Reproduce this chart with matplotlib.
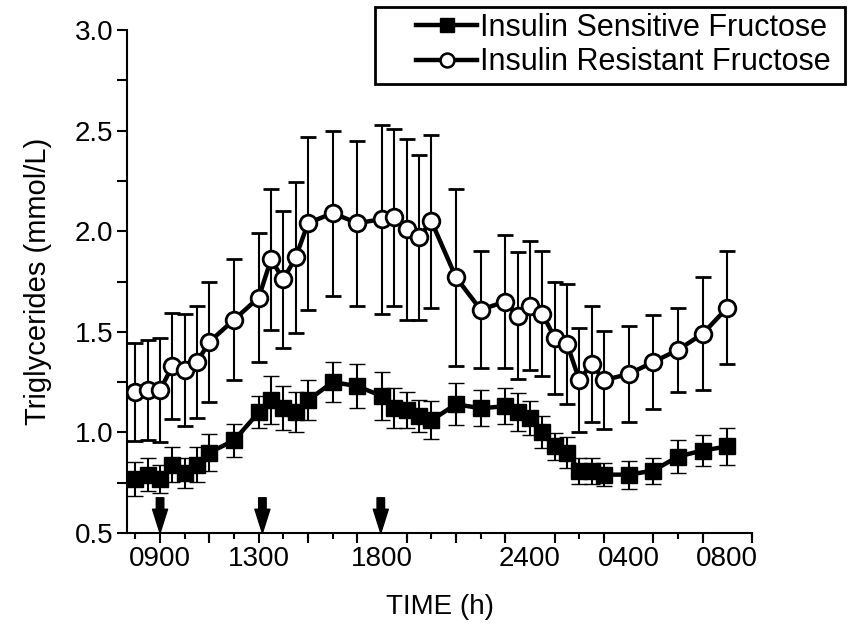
import matplotlib
matplotlib.use("Agg")
import matplotlib.pyplot as plt
from matplotlib.lines import Line2D
from matplotlib.patches import Rectangle
import numpy as np

plt.rcParams['font.family'] = ['Liberation Sans', 'DejaVu Sans']

# Time of sampling (hours from midnight of day 1; 24 = midnight, 32 = 0800 next day)
times = [8, 8.5, 9, 9.5, 10, 10.5, 11, 12, 13, 13.5, 14, 14.5, 15, 16, 17, 18,
         18.5, 19, 19.5, 20, 21, 22, 23, 23.5, 24, 24.5, 25, 25.5, 26, 26.5,
         27, 28, 29, 30, 31, 32]

sensitive_mean = [0.77, 0.79, 0.77, 0.84, 0.80, 0.84, 0.90, 0.96, 1.10, 1.16,
                  1.12, 1.10, 1.16, 1.25, 1.23, 1.18, 1.12, 1.11, 1.08, 1.06,
                  1.14, 1.12, 1.13, 1.10, 1.07, 1.00, 0.93, 0.90, 0.81, 0.81,
                  0.79, 0.79, 0.81, 0.88, 0.91, 0.93]
sensitive_err = [0.085, 0.083, 0.07, 0.085, 0.075, 0.087, 0.09, 0.08, 0.08, 0.12,
                 0.11, 0.10, 0.10, 0.10, 0.11, 0.12, 0.10, 0.09, 0.08, 0.095,
                 0.105, 0.09, 0.09, 0.095, 0.085, 0.08, 0.066, 0.077, 0.065, 0.065,
                 0.058, 0.07, 0.065, 0.083, 0.077, 0.09]

resistant_mean = [1.20, 1.21, 1.21, 1.33, 1.31, 1.35, 1.45, 1.56, 1.67, 1.86,
                  1.76, 1.87, 2.04, 2.09, 2.04, 2.06, 2.07, 2.01, 1.97, 2.05,
                  1.77, 1.61, 1.65, 1.58, 1.63, 1.59, 1.47, 1.44, 1.26, 1.34,
                  1.26, 1.29, 1.35, 1.41, 1.49, 1.62]
resistant_err = [0.245, 0.25, 0.26, 0.265, 0.28, 0.28, 0.30, 0.30, 0.32, 0.35,
                 0.34, 0.375, 0.43, 0.41, 0.41, 0.47, 0.44, 0.45, 0.41, 0.43,
                 0.44, 0.29, 0.33, 0.315, 0.32, 0.31, 0.28, 0.30, 0.26, 0.29,
                 0.245, 0.24, 0.235, 0.21, 0.28, 0.28]

meal_times = [9.0, 13.15, 17.95]

tick_hours = [9, 13, 18, 24, 28, 32]
tick_labels = ['0900', '1300', '1800', '2400', '0400', '0800']

series_labels = ['Insulin Sensitive Fructose', 'Insulin Resistant Fructose']

W, H = 854, 633
fig = plt.figure(figsize=(W / 100, H / 100), dpi=100)
ax = fig.add_axes([127 / W, 1 - 533 / H, (752 - 127) / W, (533 - 30) / H])

ax.errorbar(times, resistant_mean, yerr=resistant_err, color='black', lw=3.2,
            marker='o', ms=12, mfc='white', mec='black', mew=2,
            ecolor='black', elinewidth=1.5, capsize=5.5, capthick=1.5, zorder=3)
ax.errorbar(times, sensitive_mean, yerr=sensitive_err, color='black', lw=3.2,
            marker='s', ms=11, mfc='black', mec='black', mew=1,
            ecolor='black', elinewidth=1.5, capsize=5.5, capthick=1.5, zorder=3)

for t in meal_times:
    ax.annotate('', xy=(t, 0.5), xytext=(t, 0.675),
                arrowprops=dict(arrowstyle='simple,head_length=0.95,head_width=0.6,tail_width=0.3',
                                color='black', shrinkA=0, shrinkB=0, mutation_scale=18),
                zorder=4)

ax.set_xlim(7.66, 33.0)
ax.set_ylim(0.5, 3.0)

ax.spines['top'].set_visible(False)
ax.spines['right'].set_visible(False)
ax.spines['left'].set_linewidth(1.5)
ax.spines['bottom'].set_linewidth(1.5)

# labelled ticks (no marks), with long marks at odd hours from a secondary axis
ax.set_xticks(tick_hours)
ax.set_xticklabels(tick_labels)
ax.set_xticks(np.arange(8, 34, 1), minor=True)
ax.tick_params(axis='x', which='major', length=0, pad=9, labelsize=20)
ax.tick_params(axis='x', which='minor', length=4, width=1.5, direction='out')

sec = ax.secondary_xaxis('bottom')
sec.set_xticks(np.arange(9, 34, 2))
sec.set_xticklabels([])
sec.tick_params(axis='x', length=7.5, width=1.5, direction='out')
sec.spines['bottom'].set_visible(False)

ax.set_yticks(np.arange(0.5, 3.01, 0.5))
ax.set_yticklabels([f'{v:.1f}' for v in np.arange(0.5, 3.01, 0.5)])
ax.set_yticks(np.arange(0.75, 3.0, 0.5), minor=True)
ax.tick_params(axis='y', which='major', length=7, width=1.5, labelsize=20, pad=3)
ax.tick_params(axis='y', which='minor', length=7, width=1.5)

ax.set_xlabel('TIME (h)', fontsize=20, labelpad=16)
ax.set_ylabel('Triglycerides (mmol/L)', fontsize=21, labelpad=16)

handles = [
    Line2D([], [], color='black', lw=3.2, marker='s', ms=10, mfc='black', mec='black'),
    Line2D([], [], color='black', lw=3.2, marker='o', ms=10, mfc='white', mec='black', mew=1.8),
]
leg = fig.legend(handles, series_labels,
                 loc='upper left', bbox_to_anchor=(416 / W, 1 - 13 / H),
                 fontsize=22, frameon=False,
                 handlelength=2.0, handletextpad=0.1, borderpad=0,
                 labelspacing=0.14, borderaxespad=0)

# legend frame as in the reference (wider than the entries)
fig.patches.append(Rectangle((375 / W, 1 - 84 / H), (845 - 375) / W, 77 / H,
                             transform=fig.transFigure, fill=False,
                             edgecolor='black', linewidth=2))

fig.savefig('out.png', dpi=100)
